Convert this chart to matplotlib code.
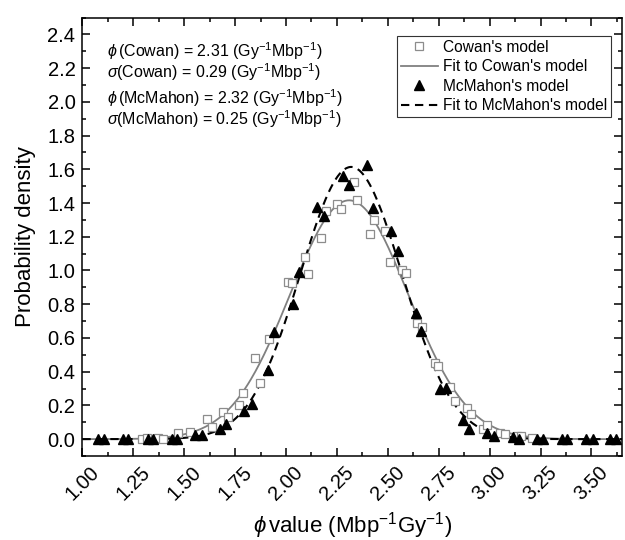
import numpy as np
import matplotlib
matplotlib.use('Agg')
from matplotlib import pyplot as plt
from matplotlib.ticker import MultipleLocator

plt.rcParams['font.family'] = ['Liberation Sans', 'DejaVu Sans']
plt.rcParams['mathtext.fontset'] = 'custom'
plt.rcParams['mathtext.rm'] = 'Liberation Sans'
plt.rcParams['mathtext.it'] = 'Liberation Sans:italic'
plt.rcParams['mathtext.bf'] = 'Liberation Sans:bold'

#################### DATA ####################
# Cowan's model (open squares)
cowan_x = [1.291, 1.316, 1.373, 1.397, 1.471, 1.528, 1.611, 1.635, 1.689, 1.717,
           1.771, 1.790, 1.849, 1.872, 1.918, 2.008, 2.028, 2.093, 2.110, 2.170,
           2.196, 2.249, 2.270, 2.334, 2.347, 2.413, 2.432, 2.486, 2.511, 2.568,
           2.589, 2.645, 2.667, 2.732, 2.748, 2.805, 2.830, 2.890, 2.907, 2.969,
           2.989, 3.053, 3.077, 3.133, 3.153, 3.207]
cowan_y = [0.000, 0.004, 0.004, 0.000, 0.036, 0.043, 0.122, 0.069, 0.162, 0.129,
           0.201, 0.276, 0.483, 0.331, 0.596, 0.933, 0.927, 1.079, 0.982, 1.193,
           1.350, 1.396, 1.365, 1.523, 1.420, 1.219, 1.302, 1.232, 1.049, 1.001,
           0.986, 0.690, 0.667, 0.453, 0.433, 0.310, 0.226, 0.183, 0.148, 0.059,
           0.083, 0.036, 0.030, 0.016, 0.016, 0.004]

# McMahon's model (filled triangles)
mcmahon_x = [1.078, 1.106, 1.198, 1.225, 1.321, 1.348, 1.439, 1.466, 1.553, 1.586,
             1.676, 1.706, 1.794, 1.832, 1.912, 1.941, 2.036, 2.064, 2.154, 2.188,
             2.278, 2.308, 2.396, 2.426, 2.516, 2.548, 2.636, 2.662, 2.756, 2.784,
             2.871, 2.900, 2.989, 3.022, 3.116, 3.146, 3.231, 3.261, 3.354, 3.382,
             3.474, 3.506, 3.591, 3.621]
mcmahon_y = [0.000, 0.000, 0.000, 0.000, 0.000, 0.000, 0.000, 0.000, 0.024, 0.024,
             0.059, 0.089, 0.167, 0.207, 0.410, 0.633, 0.799, 0.990, 1.375, 1.325,
             1.558, 1.507, 1.623, 1.371, 1.237, 1.118, 0.749, 0.641, 0.298, 0.306,
             0.114, 0.063, 0.036, 0.020, 0.010, 0.000, 0.000, 0.000, 0.000, 0.000,
             0.000, 0.000, 0.000, 0.000]

# Gaussian fits: (centre, sigma, peak height)
cowan_fit = (2.31, 0.29, 1.416)
mcmahon_fit = (2.32, 0.25, 1.614)


def gauss(x, fit):
    mu, sd, h = fit
    return h * np.exp(-(x - mu) ** 2 / (2 * sd ** 2))


#################### PLOT ####################
fig = plt.figure(figsize=(6.25, 5.4), dpi=100)
ax = fig.add_axes([82.4 / 625, 1 - 456 / 540, (622 - 82.4) / 625, (456 - 17.5) / 540])

xf = np.linspace(1.0, 3.65, 500)
ax.plot(xf, gauss(xf, cowan_fit), color='#808080', lw=1.3, zorder=2,
        label="Fit to Cowan's model")
ax.plot(xf, gauss(xf, mcmahon_fit), color='black', lw=1.5, ls=(0, (4, 2.7)), zorder=2,
        label="Fit to McMahon's model")
ax.plot(cowan_x, cowan_y, 's', ms=6, mfc='white', mec='#8c8c8c', mew=0.9, zorder=3,
        label="Cowan's model")
ax.plot(mcmahon_x, mcmahon_y, '^', ms=7.5, color='black', zorder=4,
        label="McMahon's model")

ax.set_xlim(1.0, 3.65)
ax.set_ylim(-0.1, 2.5)
ax.xaxis.set_minor_locator(MultipleLocator(0.125))
ax.yaxis.set_minor_locator(MultipleLocator(0.1))
xt = np.arange(1.0, 3.51, 0.25)
ax.set_xticks(xt)
ax.set_xticklabels(['%.2f' % v for v in xt], rotation=45, ha='center')
yt = np.arange(0, 2.41, 0.2)
ax.set_yticks(yt)
ax.set_yticklabels(['%.1f' % v for v in yt])

ax.tick_params(which='both', direction='in', top=True, right=True, width=1.1)
ax.tick_params(which='major', length=5.5, labelsize=14.5)
ax.tick_params(which='minor', length=2.8)
ax.tick_params(axis='x', pad=5)
ax.tick_params(axis='y', pad=5)
for s in ax.spines.values():
    s.set_linewidth(1.1)

ax.set_ylabel('Probability density', fontsize=16, labelpad=8)
ax.set_xlabel(r'$\phi\,$value (Mbp$^{-1}$Gy$^{-1}$)', fontsize=16, labelpad=4)

# fit parameters, one text block per model
cowan_txt = (r'$\phi\,$(Cowan) = 2.31 (Gy$^{-1}$Mbp$^{-1}$)' + '\n' +
             r'$\sigma$(Cowan) = 0.29 (Gy$^{-1}$Mbp$^{-1}$)')
mcmahon_txt = (r'$\phi\,$(McMahon) = 2.32 (Gy$^{-1}$Mbp$^{-1}$)' + '\n' +
               r'$\sigma$(McMahon) = 0.25 (Gy$^{-1}$Mbp$^{-1}$)')
fig.text(106.7 / 625, 1 - 40 / 540, cowan_txt, fontsize=11.5, va='top', ha='left',
         linespacing=0.95)
fig.text(106.7 / 625, 1 - 87 / 540, mcmahon_txt, fontsize=11.5, va='top', ha='left',
         linespacing=0.95)

h, l = ax.get_legend_handles_labels()
order = [2, 0, 3, 1]
leg = ax.legend([h[i] for i in order], [l[i] for i in order], loc='upper right',
                bbox_to_anchor=(610.7 / 625, 1 - 36 / 540), bbox_transform=fig.transFigure,
                fontsize=11.2, frameon=True, fancybox=False, framealpha=1,
                edgecolor='#333333', borderpad=0.25, handlelength=2.4,
                handletextpad=0.3, labelspacing=0.28, borderaxespad=0)
leg.get_frame().set_linewidth(0.8)

fig.savefig('out.png', dpi=100)
